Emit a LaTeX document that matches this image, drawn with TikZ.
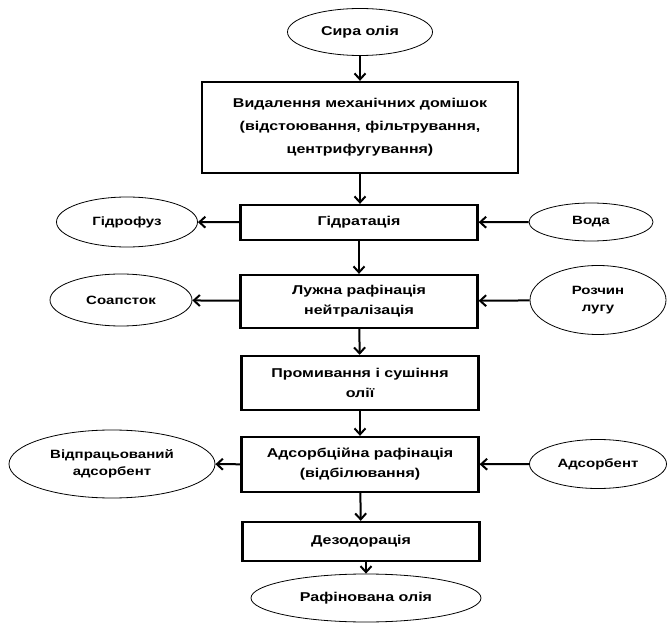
\documentclass[tikz,border=0pt]{standalone}
\usepackage{fontspec}
\setmainfont{Liberation Sans}[FakeStretch=1.25]
\usetikzlibrary{shapes.geometric,arrows.meta}
\begin{document}
\begin{tikzpicture}[x=1pt,y=1pt,
  proc/.style={draw, line width=2.3pt, minimum width=237pt, inner sep=0pt,
    align=center, font=\bfseries\fontsize{12.8}{20}\selectfont},
  term/.style={draw, ellipse, line width=0.8pt, inner sep=0pt, align=center,
    font=\bfseries\fontsize{12}{17}\selectfont},
  arr/.style={line width=2pt, -{Straight Barb[length=6pt,width=11pt,line width=2pt]}}]
\useasboundingbox (0,0) rectangle (667,622);

% main chain
\node[term, minimum width=145pt, minimum height=47pt, font=\bfseries\fontsize{12.8}{20}\selectfont] (raw) at (360,590) {Сира олія};
\node[proc, minimum width=316pt, minimum height=91pt, font=\bfseries\fontsize{12.8}{23}\selectfont] (mech) at (360,494.5)
  {Видалення механічних домішок\\(відстоювання, фільтрування,\\центрифугування)};
\node[proc, minimum height=35pt] (hyd) at (359,399.5) {Гідратація};
\node[proc, minimum height=53pt] (alk) at (359,320.5) {Лужна рафінація\\нейтралізація};
\node[proc, minimum height=54pt] (wash) at (360,239) {Промивання і сушіння\\олії};
\node[proc, minimum height=55pt] (ads) at (360,157.5) {Адсорбційна рафінація\\(відбілювання)};
\node[proc, minimum height=39pt] (deo) at (361,80.5) {Дезодорація};
\node[term, minimum width=230pt, minimum height=48pt, font=\bfseries\fontsize{12.8}{20}\selectfont] (ref) at (366,24) {Рафінована олія};

% side streams
\node[term, minimum width=141pt, minimum height=50pt] (gum) at (127,400) {Гідрофуз};
\node[term, minimum width=124pt, minimum height=38pt] (water) at (591,400) {Вода};
\node[term, minimum width=142pt, minimum height=52pt] (soap) at (121,322) {Соапсток};
\node[term, minimum width=136pt, minimum height=69pt] (lye) at (598,322) {Розчин\\лугу};
\node[term, minimum width=206pt, minimum height=68pt] (spent) at (112,158) {Відпрацьований\\адсорбент};
\node[term, minimum width=137pt, minimum height=49pt] (sorb) at (598,158) {Адсорбент};

% flow
\draw[arr] (raw) -- (mech);
\draw[arr] (mech) -- (mech.south |- hyd.north);
\draw[arr] (hyd) -- (alk);
\draw[arr] (alk) -- (wash);
\draw[arr] (wash) -- (ads);
\draw[arr] (ads) -- (deo);
\draw[arr] (deo.south -| ref.north) -- (ref);

\draw[arr] (hyd) -- (gum);
\draw[arr] (water) -- (hyd);
\draw[arr] (alk) -- (soap);
\draw[arr] (lye) -- (alk);
\draw[arr] (ads) -- (spent);
\draw[arr] (sorb) -- (ads);
\end{tikzpicture}
\end{document}
